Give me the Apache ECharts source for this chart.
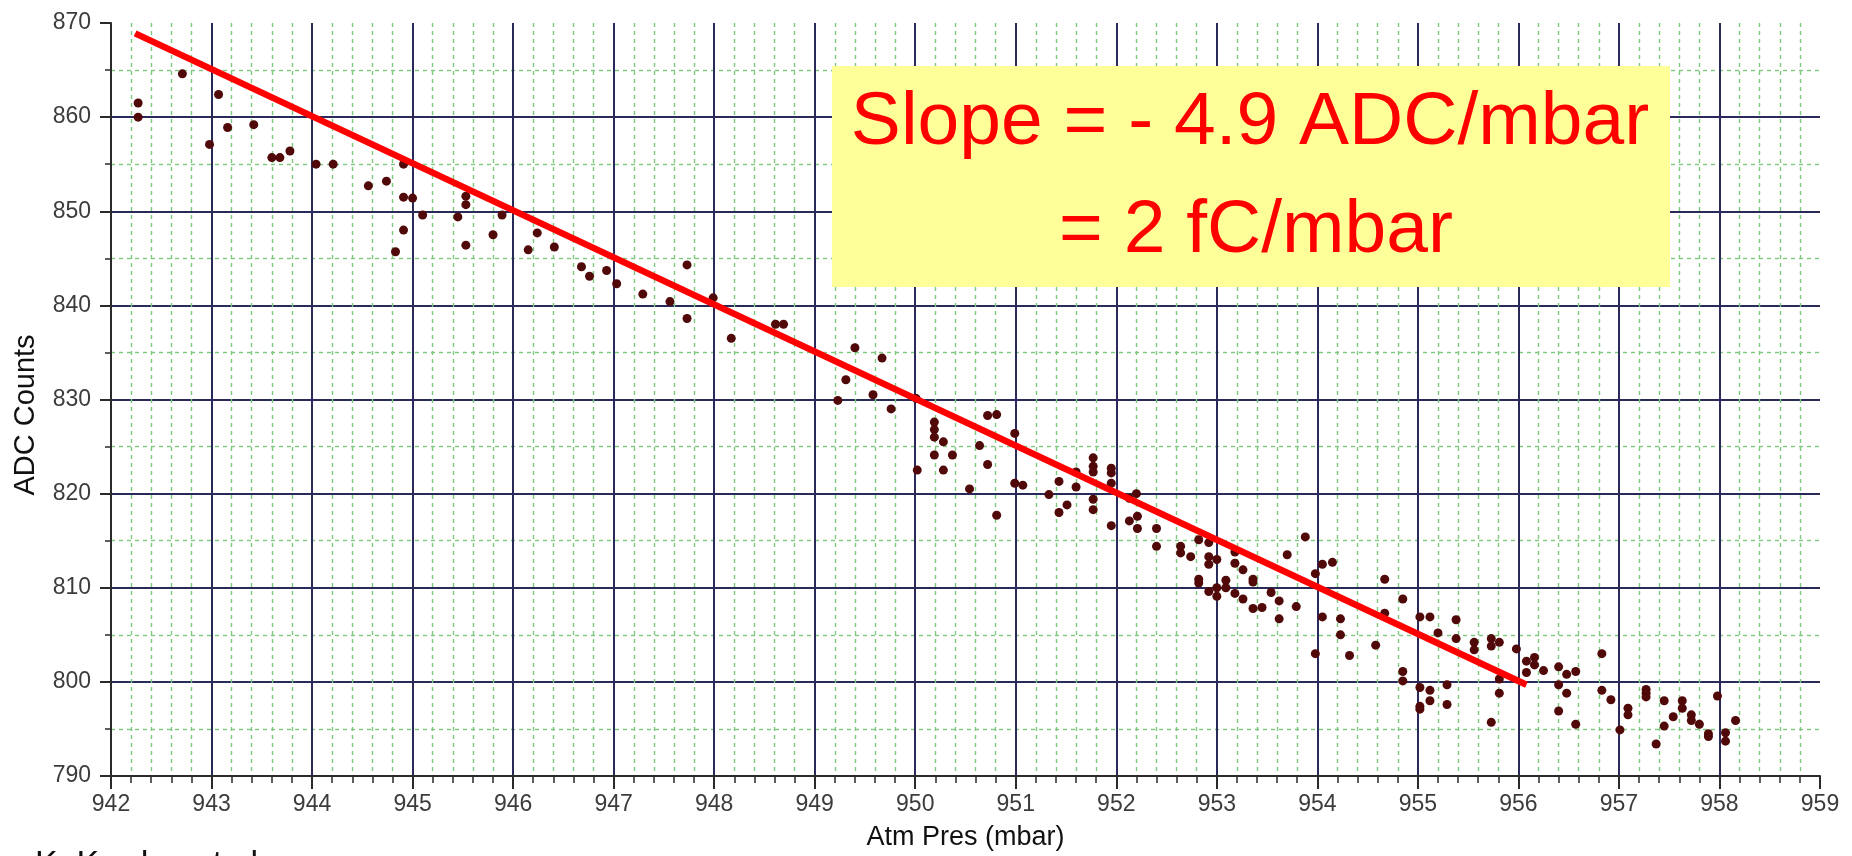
<!DOCTYPE html>
<html>
<head>
<meta charset="utf-8">
<title>ADC Counts vs Atm Pres</title>
<script src="https://cdn.jsdelivr.net/npm/echarts@6.0.0/dist/echarts.min.js"></script>
<style>
  html, body { margin: 0; padding: 0; background: #fff; }
  #chart { width: 1852px; height: 856px; }
</style>
</head>
<body>
<div id="chart"></div>
<script>
// atmospheric pressure (mbar) and ADC counts
const pres = [
  942.27, 942.27, 942.71, 942.98, 943.07, 943.16, 943.42, 943.60, 943.68, 943.78,
  944.04, 944.21, 944.56, 944.74, 944.91, 944.91, 945.00, 944.91, 944.83, 945.10,
  945.45, 945.53, 945.53, 945.53, 945.80, 945.89, 946.15, 946.24, 946.41, 946.68,
  946.76, 946.93, 947.03, 947.29, 947.56, 947.73, 947.73, 947.99, 948.17, 948.61,
  948.69, 949.40, 949.67, 949.31, 949.23, 949.58, 949.76, 950.01, 950.19, 950.19,
  950.19, 950.28, 950.19, 950.37, 950.28, 950.02, 950.54, 950.64, 950.72, 950.81,
  950.72, 950.81, 950.99, 950.99, 951.07, 951.33, 951.43, 951.43, 951.51, 951.60,
  951.60, 951.77, 951.77, 951.77, 951.77, 951.77, 951.95, 951.95, 951.95, 951.95,
  952.13, 952.20, 952.13, 952.21, 952.21, 952.40, 952.40, 952.64, 952.64, 952.74,
  952.82, 952.92, 952.92, 952.92, 953.00, 952.82, 952.82, 952.92, 953.00, 953.00,
  953.09, 953.09, 953.18, 953.18, 953.26, 953.18, 953.26, 953.36, 953.36, 953.36,
  953.45, 953.54, 953.62, 953.62, 953.70, 953.79, 953.88, 953.98, 954.05, 954.15,
  954.05, 953.98, 954.23, 954.23, 954.32, 954.58, 954.67, 954.67, 954.85, 954.85,
  954.85, 955.02, 955.12, 955.02, 955.02, 955.02, 955.12, 955.12, 955.20, 955.29,
  955.29, 955.38, 955.38, 955.56, 955.56, 955.73, 955.73, 955.81, 955.73, 955.81,
  955.81, 955.98, 956.08, 956.16, 956.08, 956.16, 956.25, 956.40, 956.48, 956.57,
  956.40, 956.48, 956.40, 956.57, 956.83, 956.83, 956.92, 957.01, 957.09, 957.09,
  957.27, 957.27, 957.27, 957.37, 957.45, 957.45, 957.54, 957.63, 957.63, 957.72,
  957.72, 957.80, 957.89, 957.89, 957.98, 958.06, 958.06, 958.16
];
const adc = [
  861.5, 860.0, 864.6, 857.1, 862.4, 858.9, 859.2, 855.7, 855.7, 856.4,
  855.0, 855.0, 852.7, 853.2, 855.0, 851.5, 851.4, 848.0, 845.7, 849.6,
  849.4, 851.6, 850.7, 846.4, 847.5, 849.6, 845.9, 847.7, 846.2, 844.1,
  843.1, 843.7, 842.3, 841.2, 840.4, 844.3, 838.6, 840.8, 836.5, 838.0,
  838.0, 835.5, 834.4, 832.1, 829.9, 830.5, 829.0, 830.1, 827.6, 826.8,
  826.0, 825.5, 824.1, 824.1, 822.5, 822.5, 820.5, 825.1, 828.3, 828.4,
  823.1, 817.7, 826.4, 821.1, 820.9, 819.9, 821.3, 818.0, 818.8, 822.3,
  820.7, 823.8, 822.9, 822.3, 819.4, 818.3, 822.7, 822.2, 821.1, 816.6,
  819.5, 820.0, 817.1, 817.6, 816.3, 816.3, 814.4, 814.4, 813.7, 813.3,
  815.1, 814.8, 813.3, 812.5, 813.0, 810.9, 810.5, 809.6, 810.0, 809.1,
  810.8, 810.0, 813.8, 812.6, 811.9, 809.4, 808.8, 810.9, 810.6, 807.8,
  807.9, 809.5, 808.6, 806.7, 813.5, 808.0, 815.4, 811.5, 812.5, 812.7,
  806.9, 803.0, 806.7, 805.0, 802.8, 803.9, 810.9, 807.3, 808.8, 801.1,
  800.1, 806.9, 806.9, 799.4, 797.4, 797.1, 799.1, 798.0, 805.2, 799.7,
  797.6, 806.6, 804.6, 804.2, 803.4, 804.6, 803.8, 804.2, 795.7, 800.3,
  798.8, 803.5, 802.2, 802.6, 801.0, 801.8, 801.2, 801.6, 800.8, 801.1,
  799.7, 798.8, 796.9, 795.5, 803.0, 799.1, 798.1, 794.9, 797.2, 796.5,
  799.2, 798.8, 798.4, 793.4, 798.0, 795.3, 796.3, 798.0, 797.2, 796.5,
  795.9, 795.5, 794.5, 794.2, 798.5, 794.6, 793.7, 795.9
];

// end points of the fitted line
const fitPres = [942.24, 956.08];
const fitAdc = [868.9, 799.7];

const slopeLines = ['Slope = - 4.9 ADC/mbar', '= 2 fC/mbar'];

const points = pres.map((p, i) => [p, adc[i]]);
const fit = fitPres.map((p, i) => [p, fitAdc[i]]);

const chart = echarts.init(document.getElementById('chart'));

const font = '"Liberation Sans", Arial, sans-serif';
const majorGrid = { show: true, showMinLine: false, showMaxLine: false,
  lineStyle: { color: '#29295a', width: 2 } };
const minorGrid = { show: true, lineStyle: { color: '#7cc87c', width: 1.4, type: [4, 4] } };

const option = {
  animation: false,
  backgroundColor: '#fff',
  grid: { left: 111, top: 23, right: 32, bottom: 79 },
  xAxis: {
    type: 'value',
    min: 942,
    max: 959,
    interval: 1,
    name: 'Atm Pres (mbar)',
    nameLocation: 'middle',
    nameGap: 48,
    nameTextStyle: { fontFamily: font, fontSize: 27, color: '#111' },
    axisLine: { show: true, lineStyle: { color: '#2a2a2a', width: 2 } },
    axisTick: { show: true, length: 13, lineStyle: { color: '#2a2a2a', width: 2 } },
    minorTick: { show: true, splitNumber: 5, length: 7, lineStyle: { color: '#2a2a2a', width: 1.5 } },
    axisLabel: { fontFamily: font, fontSize: 23, color: '#3c3c3c', margin: 17 },
    splitLine: majorGrid,
    minorSplitLine: minorGrid
  },
  yAxis: {
    type: 'value',
    min: 790,
    max: 870,
    interval: 10,
    axisLine: { show: true, lineStyle: { color: '#2a2a2a', width: 2 } },
    axisTick: { show: true, length: 11, lineStyle: { color: '#2a2a2a', width: 2 } },
    minorTick: { show: true, splitNumber: 2, length: 6, lineStyle: { color: '#2a2a2a', width: 1.5 } },
    axisLabel: { fontFamily: font, fontSize: 23, color: '#3c3c3c', margin: 20 },
    splitLine: majorGrid,
    minorSplitLine: minorGrid
  },
  series: [
    {
      type: 'scatter',
      data: points,
      symbol: 'circle',
      symbolSize: 9,
      itemStyle: { color: '#500808', opacity: 1 },
      z: 3
    },
    {
      type: 'line',
      data: fit,
      symbol: 'none',
      lineStyle: { color: '#ff0000', width: 6.5 },
      z: 4
    }
  ],
  graphic: [
    {
      type: 'text',
      x: 26, y: 415,
      rotation: Math.PI / 2,
      style: { text: 'ADC Counts', font: '29px ' + font, fill: '#111',
        align: 'center', verticalAlign: 'middle' }
    },
    {
      type: 'text',
      left: 35, top: 848,
      style: { text: 'K. Kordas et al.', font: '34px ' + font, fill: '#111' }
    },
    {
      type: 'rect',
      z: 10,
      shape: { x: 832, y: 66, width: 838, height: 221 },
      style: { fill: '#ffff99' }
    },
    {
      type: 'text',
      z: 11,
      x: 1250, y: 123,
      style: { text: slopeLines[0], font: '75px ' + font, fill: '#ff0000',
        align: 'center', verticalAlign: 'middle' }
    },
    {
      type: 'text',
      z: 11,
      x: 1256, y: 231,
      style: { text: slopeLines[1], font: '75px ' + font, fill: '#ff0000',
        align: 'center', verticalAlign: 'middle' }
    }
  ]
};

chart.setOption(option);
</script>
</body>
</html>
